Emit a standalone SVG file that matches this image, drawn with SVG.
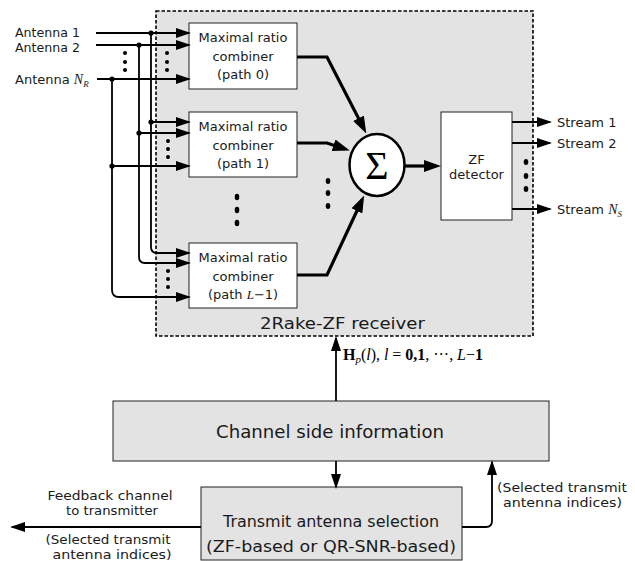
<svg xmlns="http://www.w3.org/2000/svg" width="635" height="561" viewBox="0 0 635 561">
<defs>
<style>
.t{font-family:"DejaVu Sans","Liberation Sans",sans-serif;font-size:13px;fill:#1a1a1a}
.c{text-anchor:middle}
.m{font-family:"Liberation Serif","DejaVu Serif",serif}
.bx{fill:#fff;stroke:#222;stroke-width:1}
.gb{fill:#e3e3e3;stroke:#222;stroke-width:1}
.thin{fill:none;stroke:#000;stroke-width:1.8}
.thick{fill:none;stroke:#000;stroke-width:3.2;stroke-linejoin:miter}
.d{fill:#000}
</style>
<marker id="a" markerUnits="userSpaceOnUse" markerWidth="15" markerHeight="10" refX="13" refY="5" orient="auto"><path d="M0,0 L15,5 L0,10 z" fill="#000"/></marker>
<marker id="A" markerUnits="userSpaceOnUse" markerWidth="17" markerHeight="12" refX="12" refY="6" orient="auto"><path d="M0,0 L17,6 L0,12 z" fill="#000"/></marker>
</defs>
<rect width="635" height="561" fill="#fff"/>

<g id="receiver">
<rect x="156" y="11" width="377" height="325" fill="#e3e3e3" stroke="#000" stroke-width="1.6" stroke-dasharray="3.5,2"/>
<text class="t" x="260" y="329" textLength="165" lengthAdjust="spacingAndGlyphs" style="font-size:16px">2Rake-ZF receiver</text>
</g>

<g id="antennas">
<text class="t" x="15" y="37" style="font-size:12.5px" textLength="65" lengthAdjust="spacingAndGlyphs">Antenna 1</text>
<text class="t" x="15" y="51.5" style="font-size:12.5px" textLength="65" lengthAdjust="spacingAndGlyphs">Antenna 2</text>
<text class="t" x="15" y="84">Antenna <tspan class="m" font-style="italic" style="font-size:14px">N</tspan><tspan class="m" font-style="italic" style="font-size:9px" dy="3">R</tspan></text>
</g>

<g id="mrc0">
<rect class="bx" x="189" y="23" width="108" height="66"/>
<text class="t c" x="243" y="42">Maximal ratio</text>
<text class="t c" x="243" y="61">combiner</text>
<text class="t c" x="243" y="79">(path 0)</text>
</g>
<g id="mrc1">
<rect class="bx" x="189" y="112" width="108" height="65"/>
<text class="t c" x="243" y="131">Maximal ratio</text>
<text class="t c" x="243" y="150">combiner</text>
<text class="t c" x="243" y="168">(path 1)</text>
</g>
<g id="mrcL">
<rect class="bx" x="189" y="243" width="108" height="65"/>
<text class="t c" x="243" y="262">Maximal ratio</text>
<text class="t c" x="243" y="281">combiner</text>
<text class="t c" x="243" y="299">(path <tspan class="m" font-style="italic">L</tspan>−1)</text>
</g>

<g id="sum">
<ellipse cx="377" cy="165" rx="27.5" ry="31" fill="#fff" stroke="#000" stroke-width="2.5"/>
<text class="m" x="377" y="179" text-anchor="middle" style="font-size:40px" fill="#000">Σ</text>
</g>

<g id="zf">
<rect class="bx" x="441" y="112" width="71" height="108"/>
<text class="t c" x="476.5" y="164">ZF</text>
<text class="t c" x="476.5" y="179">detector</text>
</g>

<g id="streams">
<text class="t" x="557" y="127">Stream 1</text>
<text class="t" x="557" y="148">Stream 2</text>
<text class="t" x="557" y="214">Stream <tspan class="m" font-style="italic" style="font-size:14px">N</tspan><tspan class="m" font-style="italic" style="font-size:9px" dy="3">S</tspan></text>
</g>

<g id="csi">
<rect class="gb" x="113" y="401" width="436" height="60"/>
<text class="t c" x="330" y="438" style="font-size:17px" textLength="228" lengthAdjust="spacingAndGlyphs">Channel side information</text>
</g>

<g id="tas">
<rect class="gb" x="201" y="487" width="261" height="73"/>
<text class="t c" x="331" y="527" style="font-size:16px" textLength="216" lengthAdjust="spacingAndGlyphs">Transmit antenna selection</text>
<text class="t c" x="331" y="552" style="font-size:16px" textLength="250" lengthAdjust="spacingAndGlyphs">(ZF-based or QR-SNR-based)</text>
</g>

<g id="labels">
<text x="343" y="360" class="m" style="font-size:16px" fill="#000" textLength="140" lengthAdjust="spacing"><tspan font-weight="bold">H</tspan><tspan font-style="italic" style="font-size:11px" dy="3">p</tspan><tspan dy="-3">(</tspan><tspan font-style="italic">l</tspan>), <tspan font-style="italic">l</tspan> = <tspan font-weight="bold">0,1</tspan>, ···, <tspan font-style="italic">L</tspan>−<tspan font-weight="bold">1</tspan></text>
<text class="t c" x="110" y="500" textLength="125" lengthAdjust="spacingAndGlyphs">Feedback channel</text>
<text class="t c" x="112" y="515" textLength="92" lengthAdjust="spacingAndGlyphs">to transmitter</text>
<text class="t c" x="108" y="544" textLength="125" lengthAdjust="spacingAndGlyphs">(Selected transmit</text>
<text class="t c" x="112" y="559" textLength="119" lengthAdjust="spacingAndGlyphs">antenna indices)</text>
<text class="t" x="497" y="492" textLength="130" lengthAdjust="spacingAndGlyphs">(Selected transmit</text>
<text class="t" x="503" y="507" textLength="119" lengthAdjust="spacingAndGlyphs">antenna indices)</text>
</g>

<g id="connectors">
<path class="thin" d="M96,33 H189" marker-end="url(#a)"/>
<path class="thin" d="M96,45 H189" marker-end="url(#a)"/>
<path class="thin" d="M97,79 H189" marker-end="url(#a)"/>
<path class="thin" d="M151,33 V247 Q151,253 157,253 H189" marker-end="url(#a)"/>
<path class="thin" d="M139,45 V257 Q139,263 145,263 H189" marker-end="url(#a)"/>
<path class="thin" d="M112,79 V290 Q112,297 119,297 H189" marker-end="url(#a)"/>
<path class="thin" d="M151,122 H189" marker-end="url(#a)"/>
<path class="thin" d="M139,133 H189" marker-end="url(#a)"/>
<path class="thin" d="M112,166 H189" marker-end="url(#a)"/>
<circle class="d" cx="151" cy="33" r="2.6"/>
<circle class="d" cx="139" cy="45" r="2.6"/>
<circle class="d" cx="112" cy="79" r="2.6"/>
<circle class="d" cx="151" cy="122" r="2.6"/>
<circle class="d" cx="139" cy="133" r="2.6"/>
<circle class="d" cx="112" cy="166" r="2.6"/>
<g class="d">
<circle cx="125" cy="53" r="2"/><circle cx="125" cy="62" r="2"/><circle cx="125" cy="70" r="2"/>
<circle cx="167" cy="53" r="2"/><circle cx="167" cy="62" r="2"/><circle cx="167" cy="70" r="2"/>
<circle cx="168" cy="141" r="2"/><circle cx="168" cy="149" r="2"/><circle cx="168" cy="157" r="2"/>
<circle cx="168" cy="271" r="2"/><circle cx="168" cy="279" r="2"/><circle cx="168" cy="287" r="2"/>
<ellipse cx="237" cy="197" rx="2.3" ry="3.2"/><ellipse cx="237" cy="210" rx="2.3" ry="3.2"/><ellipse cx="237" cy="223" rx="2.3" ry="3.2"/>
<ellipse cx="328" cy="181" rx="2.3" ry="3"/><ellipse cx="328" cy="193" rx="2.3" ry="3"/><ellipse cx="328" cy="206" rx="2.3" ry="3"/>
<ellipse cx="526" cy="162" rx="2.3" ry="3"/><ellipse cx="526" cy="176" rx="2.3" ry="3"/><ellipse cx="526" cy="189" rx="2.3" ry="3"/>
</g>
<path class="thick" d="M297,57 H327 L364,129" marker-end="url(#A)"/>
<path class="thick" d="M297,143 H327 L345,149" marker-end="url(#A)"/>
<path class="thick" d="M297,275 H327 L362,200" marker-end="url(#A)"/>
<path class="thick" d="M404,166 H436" marker-end="url(#A)"/>
<path class="thin" d="M512,122 H550" marker-end="url(#a)"/>
<path class="thin" d="M512,143 H550" marker-end="url(#a)"/>
<path class="thin" d="M512,209 H550" marker-end="url(#a)"/>
<path class="thin" d="M336,401 V338" marker-end="url(#a)"/>
<path class="thin" d="M336,461 V487" marker-end="url(#a)"/>
<path class="thin" d="M201,527 H12" marker-end="url(#a)"/>
<path class="thin" d="M462,527 H486 Q492,527 492,521 V462" marker-end="url(#a)"/>
</g>
</svg>
